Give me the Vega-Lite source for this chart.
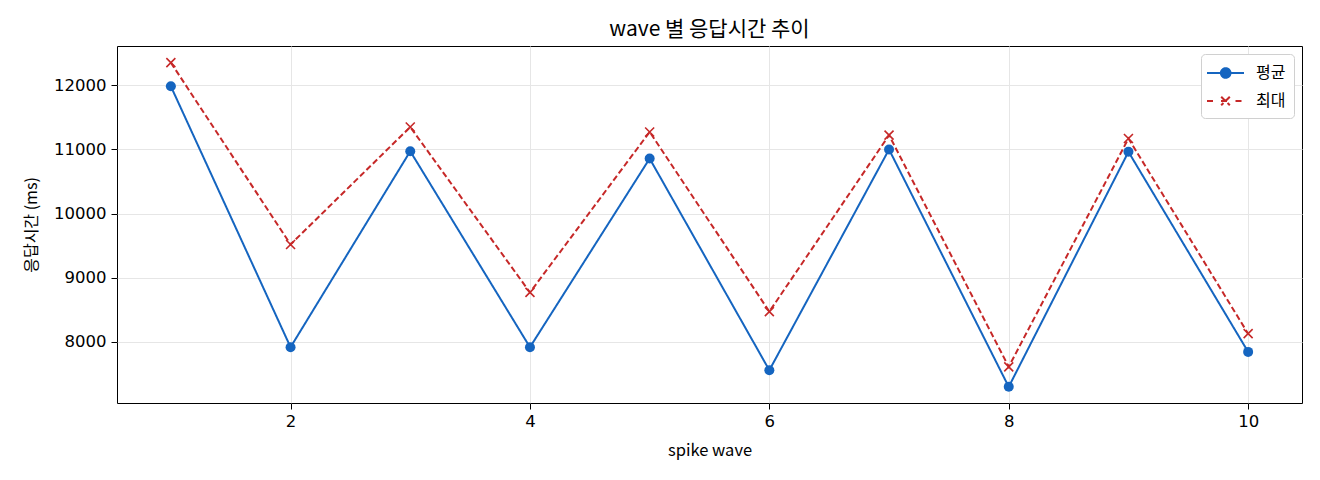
{
  "$schema": "https://vega.github.io/schema/vega-lite/v6.json",
  "autosize": "none",
  "width": 1185,
  "height": 357,
  "padding": {"left": 117, "top": 46, "right": 18, "bottom": 77},
  "background": "white",
  "config": {
    "font": "Noto Sans CJK KR",
    "view": {"stroke": "black", "strokeWidth": 1},
    "axis": {
      "grid": true,
      "gridColor": "#e6e6e6",
      "gridWidth": 1,
      "domain": false,
      "tickColor": "black",
      "tickSize": 6,
      "labelColor": "black",
      "labelFont": "DejaVu Sans",
      "labelFontSize": 16.5,
      "titleColor": "black",
      "titleFontWeight": "normal"
    }
  },
  "title": {
    "text": "wave 별 응답시간 추이",
    "fontSize": 21,
    "fontWeight": "normal",
    "color": "black",
    "offset": 6
  },
  "data": {
    "values": [
      {"wave": 1, "series": "평균", "value": 11985},
      {"wave": 2, "series": "평균", "value": 7917},
      {"wave": 3, "series": "평균", "value": 10972},
      {"wave": 4, "series": "평균", "value": 7917},
      {"wave": 5, "series": "평균", "value": 10858},
      {"wave": 6, "series": "평균", "value": 7558},
      {"wave": 7, "series": "평균", "value": 11000},
      {"wave": 8, "series": "평균", "value": 7299},
      {"wave": 9, "series": "평균", "value": 10963},
      {"wave": 10, "series": "평균", "value": 7844},
      {"wave": 1, "series": "최대", "value": 12354},
      {"wave": 2, "series": "최대", "value": 9519},
      {"wave": 3, "series": "최대", "value": 11350},
      {"wave": 4, "series": "최대", "value": 8771},
      {"wave": 5, "series": "최대", "value": 11273},
      {"wave": 6, "series": "최대", "value": 8472},
      {"wave": 7, "series": "최대", "value": 11223},
      {"wave": 8, "series": "최대", "value": 7611},
      {"wave": 9, "series": "최대", "value": 11171},
      {"wave": 10, "series": "최대", "value": 8128}
    ]
  },
  "encoding": {
    "x": {
      "field": "wave",
      "type": "quantitative",
      "scale": {"domain": [0.55, 10.45], "nice": false, "zero": false},
      "axis": {"values": [2, 4, 6, 8, 10], "title": "spike wave", "titleFontSize": 16.5, "labelPadding": 4, "titlePadding": 13}
    },
    "y": {
      "field": "value",
      "type": "quantitative",
      "scale": {"domain": [7047, 12613], "nice": false, "zero": false},
      "axis": {"values": [8000, 9000, 10000, 11000, 12000], "format": "d", "title": "응답시간 (ms)", "titleFontSize": 16, "labelPadding": 5, "titlePadding": 14}
    }
  },
  "layer": [
    {
      "mark": {"type": "line", "strokeWidth": 2},
      "encoding": {
        "color": {
          "field": "series",
          "type": "nominal",
          "scale": {"domain": ["평균", "최대"], "range": ["#1565c0", "#c62828"]},
          "legend": {
            "title": null,
            "orient": "top-right",
            "offset": 8,
            "fillColor": "white",
            "strokeColor": "#d0d0d0",
            "cornerRadius": 4,
            "padding": 8,
            "symbolSize": 400,
            "labelOffset": 25,
            "rowPadding": 8,
            "labelFontSize": 16,
            "labelColor": "black",
            "encode": {
              "symbols": {
                "update": {
                  "shape": {"signal": "datum.value === '평균' ? 'M-1.3,0L2.4,0M1.05,0A0.48,0.48 0 1,1 0.09,0A0.48,0.48 0 1,1 1.05,0Z' : 'M-1.3,0L-0.45,0M0.1,0L1.0,0M1.55,0L2.4,0M0.12,-0.43L0.98,0.43M0.98,-0.43L0.12,0.43'"},
                  "fill": {"signal": "datum.value === '평균' ? '#1565c0' : 'transparent'"},
                  "stroke": {"signal": "datum.value === '평균' ? '#1565c0' : '#c62828'"},
                  "strokeWidth": {"value": 2},
                  "strokeDash": {"value": []},
                  "opacity": {"value": 1}
                }
              }
            }
          }
        },
        "strokeDash": {
          "field": "series",
          "type": "nominal",
          "scale": {"domain": ["평균", "최대"], "range": [[1, 0], [6, 3]]},
          "legend": null
        }
      }
    },
    {
      "transform": [{"filter": "datum.series === '평균'"}],
      "mark": {"type": "point", "shape": "circle", "filled": true, "size": 100, "color": "#1565c0", "opacity": 1}
    },
    {
      "transform": [{"filter": "datum.series === '최대'"}],
      "mark": {"type": "point", "shape": "M-1,-1L1,1M1,-1L-1,1", "filled": false, "size": 81, "color": "#c62828", "strokeWidth": 1.6, "opacity": 1}
    }
  ]
}
